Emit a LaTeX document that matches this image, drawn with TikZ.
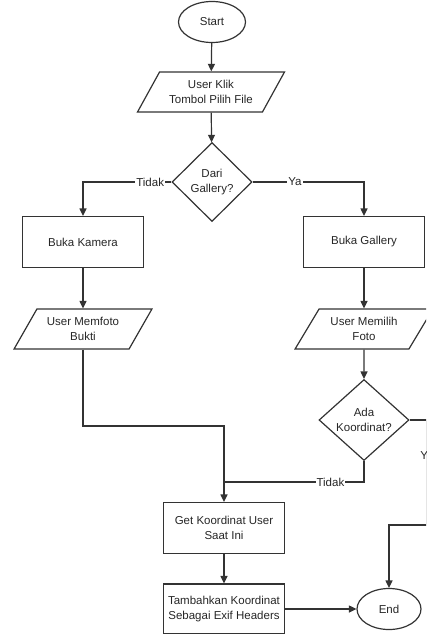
\documentclass[tikz,border=0pt]{standalone}
\usepackage{fontspec}
\setmainfont{Liberation Sans}
\usetikzlibrary{shapes.geometric,arrows.meta}

\tikzset{
  garis/.style={draw=black!80, line width=1.2pt},
  panah/.style={garis, -{Triangle[length=7.5pt,width=7pt]}},
  teks/.style={text=black!85, font=\fontsize{11.5}{14.5}\selectfont, align=center},
  terminal/.style={garis, teks, ellipse, minimum width=67pt, minimum height=41pt, inner sep=0pt},
  proses/.style={garis, teks, rectangle, minimum width=121pt, minimum height=51pt, inner sep=0pt},
  io/.style={garis, teks, trapezium, trapezium left angle=52, trapezium right angle=128,
    trapezium stretches=true, minimum width=138pt, minimum height=40pt, inner sep=0pt},
  keputusan/.style={garis, teks, diamond, inner sep=0pt},
  ket/.style={teks, fill=white, inner sep=1pt}
}

\begin{document}
\begin{tikzpicture}[x=1pt, y=-1pt]
    \useasboundingbox (0,0) rectangle (426,634);
    \clip (0,0) rectangle (426,634);

    % Knoten
    \node[terminal] (start) at (212,22) {Start};
    \node[io, minimum width=147pt] (klik) at (211,92) {User Klik\\Tombol Pilih File};
    \node[keputusan, minimum width=80pt, minimum height=79pt] (gallery) at (212,182) {Dari\\Gallery?};
    \node[proses] (kamera) at (83,242) {Buka Kamera};
    \node[proses] (bukagal) at (364,242) {Buka Gallery};
    \node[io] (memfoto) at (83,329) {User Memfoto\\Bukti};
    \node[io] (memilih) at (364,329) {User Memilih\\Foto};
    \node[keputusan, minimum width=90pt, minimum height=81pt] (koord) at (364,420) {Ada\\Koordinat?};
    \node[proses] (getkoord) at (224,528) {Get Koordinat User\\Saat Ini};
    \node[proses, minimum height=50pt] (exif) at (224,609) {Tambahkan Koordinat\\Sebagai Exif Headers};
    \node[terminal, minimum width=64pt] (end) at (389,609) {End};

    % Hilfspunkte
    \coordinate (j1) at (224,426);
    \coordinate (j2) at (224,482);
    \coordinate (ya) at (427,525);

    % Verbindungen
    \draw[panah] (start) -- (klik);
    \draw[panah] (klik) -- (gallery);
    \draw[panah] (gallery.west) -| node[ket, pos=0.12] {Tidak} (kamera.north);
    \draw[panah] (gallery.east) -| node[ket, pos=0.19] {Ya} (bukagal.north);
    \draw[panah] (kamera) -- (memfoto);
    \draw[panah] (bukagal) -- (memilih);
    \draw[panah] (memilih) -- (koord);
    \draw[panah] (memfoto.south) |- (j1) -- (getkoord.north);
    \draw[garis] (koord.south) |- node[ket, pos=0.62] {Tidak} (j2);
    \draw[panah] (koord.east) -| node[ket, pos=0.67] {Ya} (ya) -| (end.north);
    \draw[panah] (getkoord) -- (exif);
    \draw[panah] (exif) -- (end);
\end{tikzpicture}
\end{document}
